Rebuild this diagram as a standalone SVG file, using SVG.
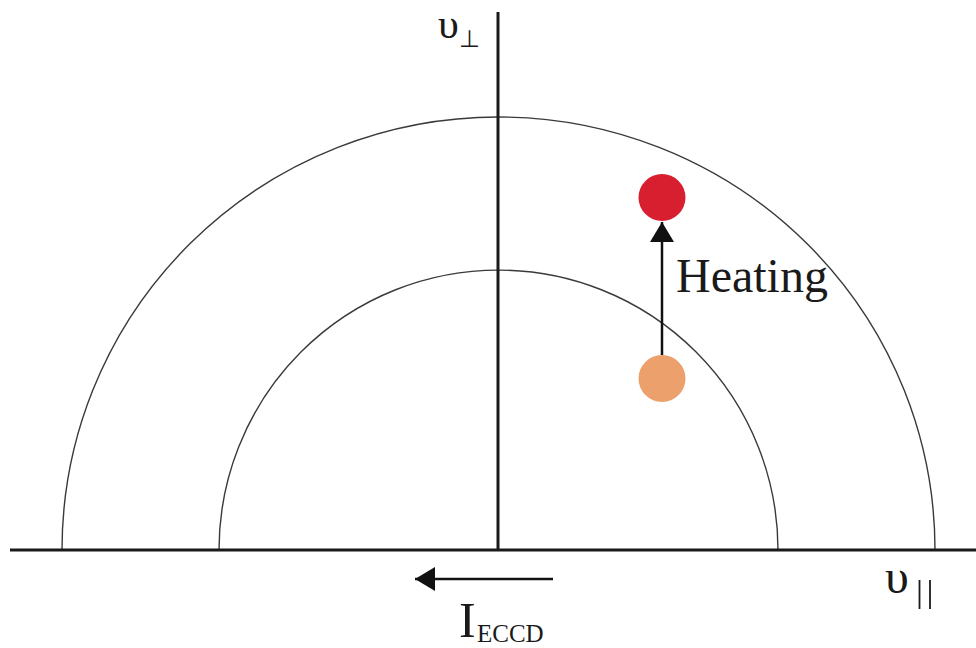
<svg xmlns="http://www.w3.org/2000/svg" width="976" height="648" viewBox="0 0 976 648">
<style>
.axis{stroke:#1a1a1a;stroke-width:3;fill:none}
.arc{stroke:#3a3a3a;stroke-width:1.4;fill:none}
.arr{stroke:#111;stroke-width:2.5;fill:none}
.t{font-family:"Liberation Serif","Times New Roman",serif;fill:#1a1a1a}
</style>
<defs>
<marker id="ah" viewBox="0 0 20 24" refX="20" refY="12" markerWidth="20" markerHeight="24" markerUnits="userSpaceOnUse" orient="auto">
<path d="M0 0 L20 12 L0 24 Z" fill="#111"/>
</marker>
</defs>
<rect width="976" height="648" fill="#fff"/>
<g id="arcs">
<path class="arc" d="M62 550 A436.5 433 0 0 1 935 550"/>
<path class="arc" d="M219 550 A279.5 280 0 0 1 778 550"/>
</g>
<g id="axes">
<line class="axis" x1="10" y1="550" x2="976" y2="550"/>
<line class="axis" x1="498" y1="12" x2="498" y2="550"/>
</g>
<g id="connectors">
<line class="arr" x1="662" y1="355" x2="662" y2="222" marker-end="url(#ah)"/>
<line class="arr" x1="553" y1="579" x2="415" y2="579" marker-end="url(#ah)"/>
</g>
<g id="hot">
<circle cx="662" cy="197.5" r="23.5" fill="#d71f30"/>
</g>
<g id="cold">
<circle cx="662" cy="378.5" r="23.5" fill="#eca06b"/>
</g>
<g id="labels">
<text class="t" x="438" y="38" font-size="42">υ</text>
<text class="t" x="459" y="47" font-size="24">⊥</text>
<text class="t" x="676" y="292" font-size="48">Heating</text>
<text class="t" x="885" y="593" font-size="48">υ</text>
<line x1="919.5" y1="580" x2="919.5" y2="609" stroke="#1a1a1a" stroke-width="1.8"/>
<line x1="930" y1="580" x2="930" y2="609" stroke="#1a1a1a" stroke-width="1.8"/>
<text class="t" x="459" y="637" font-size="50">I</text>
<text class="t" x="477" y="642" font-size="25">ECCD</text>
</g>
</svg>
